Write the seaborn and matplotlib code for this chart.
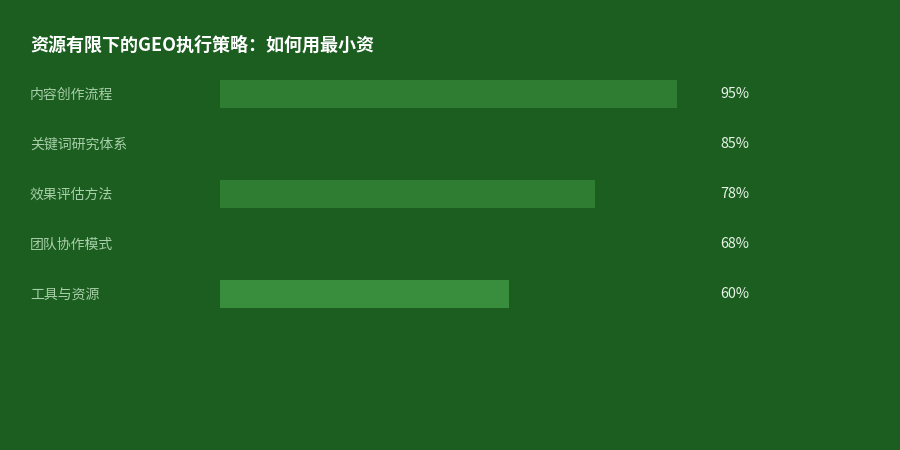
import matplotlib
matplotlib.use('Agg')
import matplotlib.pyplot as plt
import matplotlib.transforms as mtransforms
import seaborn as sns
import pandas as pd

# chart data
categories = ['内容创作流程', '关键词研究体系', '效果评估方法', '团队协作模式', '工具与资源']
values = [95, 85, 78, 68, 60]
bar_colors = ['#2e7d32', '#1b5e20', '#2e7d32', '#1b5e20', '#388e3c']
title = '资源有限下的GEO执行策略：如何用最小资'

BG = '#1b5e20'

sns.set_theme(style='white')
plt.rcParams['font.family'] = ['Noto Sans CJK SC', 'DejaVu Sans']

df = pd.DataFrame({'category': categories, 'value': values})

fig = plt.figure(figsize=(9, 4.5), dpi=100, facecolor=BG)
ax = fig.add_axes([220 / 900, 1 - 319 / 450, 481 / 900, 250 / 450])
ax.set_facecolor(BG)

sns.barplot(data=df, x='value', y='category', hue='category',
            palette=bar_colors, legend=False, width=0.56,
            saturation=1, linewidth=0, ax=ax)

ax.set_xlim(0, 100)
ax.set_ylim(4.5, -0.5)
ax.set_xlabel('')
ax.set_ylabel('')
ax.set_xticks([])
ax.set_yticks([])
for s in ax.spines.values():
    s.set_visible(False)

# category labels on the left, value labels on the right
trans = mtransforms.blended_transform_factory(fig.transFigure, ax.transData)
for i, (cat, val) in enumerate(zip(categories, values)):
    ax.text(30 / 900, i + 0.01, cat, transform=trans, ha='left', va='center',
            fontsize=10, color='#a8cfa9')
    ax.text(720 / 900, i + 0.01, f'{val}%', transform=trans, ha='left', va='center',
            fontsize=10.3, color='#e8f5e9')

fig.text(30 / 900, 1 - 45 / 450, title, ha='left', va='center',
         fontsize=13, fontweight='bold', color='white')

fig.savefig('out.png', dpi=100, facecolor=BG)
